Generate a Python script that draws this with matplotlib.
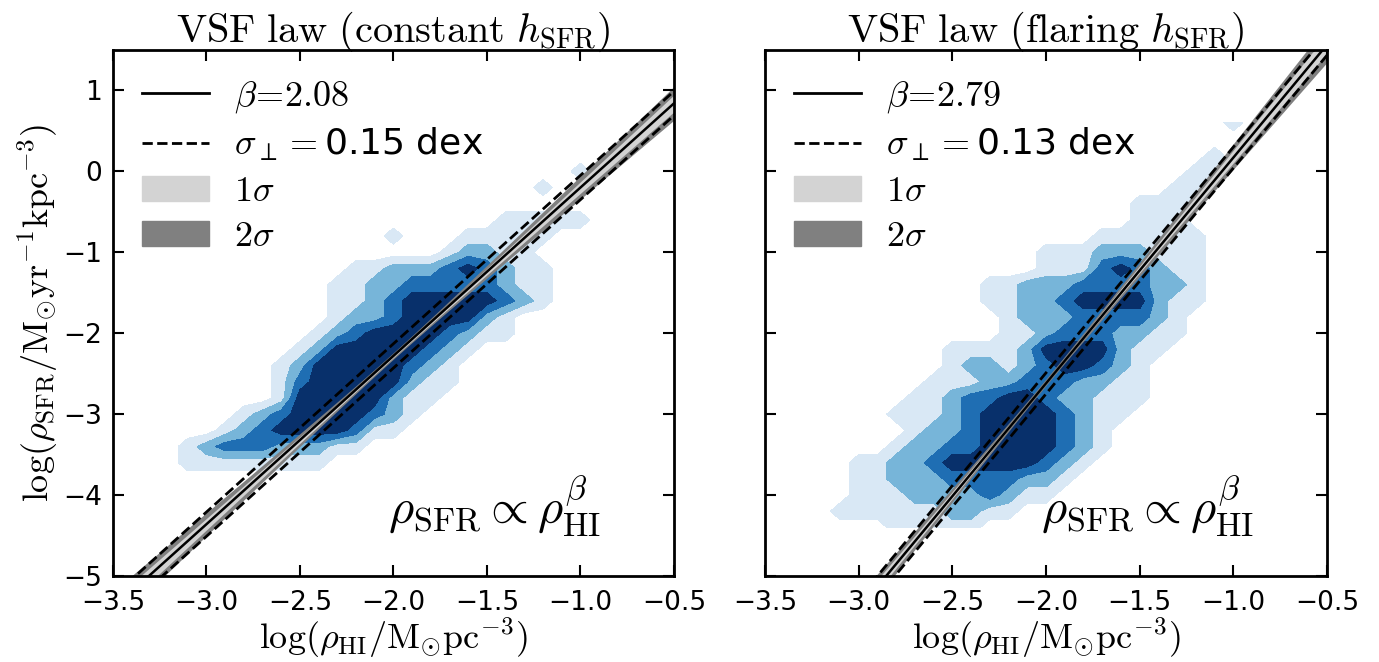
import numpy as np
import matplotlib
matplotlib.use("Agg")
import matplotlib.pyplot as plt
from matplotlib.patches import Patch
from matplotlib.lines import Line2D

plt.rcParams['mathtext.fontset'] = 'cm'
plt.rcParams['font.family'] = ['DejaVu Sans']

# bin centres of the 2D histogram (log rho_HI, log rho_SFR)
x_bins = [-3.4, -3.3, -3.2, -3.1, -3.0, -2.9, -2.8, -2.7, -2.6, -2.5, -2.4, -2.3, -2.2, -2.1,
          -2.0, -1.9, -1.8, -1.7, -1.6, -1.5, -1.4, -1.3, -1.2, -1.1, -1.0, -0.9, -0.8]
y_bins_left = [0.2, 0.0, -0.2, -0.4, -0.6, -0.8, -1.0, -1.2, -1.4, -1.6, -1.8, -2.0,
               -2.2, -2.4, -2.6, -2.8, -3.0, -3.2, -3.4, -3.6, -3.8]
y_bins_right = [0.6, 0.4, 0.2, 0.0, -0.2, -0.4, -0.6, -0.8, -1.0, -1.2, -1.4, -1.6, -1.8,
                -2.0, -2.2, -2.4, -2.6, -2.8, -3.0, -3.2, -3.4, -3.6, -3.8, -4.0, -4.2, -4.4]

# density level (0-4) per bin, one string per row of y_bins
levels_left = [
    "000000000000000000000000000",
    "000000000000000000000000100",
    "000000000000000000000010000",
    "000000000000000000000000000",
    "000000000000000000001111100",
    "000000000000001000111110000",
    "000000000000000001221100000",
    "000000000000112223432110000",
    "000000000001122333332110000",
    "000000000001123444443210000",
    "000000000001223444421000000",
    "000000000012344443211000000",
    "000000000124444432100000000",
    "000000001244444321000000000",
    "000000001344444211000000000",
    "000000001444442110000000000",
    "000000123444432100000000000",
    "000001234444311000000000000",
    "000123332221100000000000000",
    "000111111110000000000000000",
    "000000000000000000000000000",
]
levels_right = [
    "000000000000000000000000100",
    "000000000000000000000000000",
    "000000000000000000000001000",
    "000000000000000000000011000",
    "000000000000000000000110000",
    "000000000000000000011110000",
    "000000000000000000011100000",
    "000000000000000001111110000",
    "000000000000001112221110000",
    "000000000000001113432110000",
    "000000000001122233332210000",
    "000000000001122344442110000",
    "000000000000122233332100000",
    "000000000000112333221100000",
    "000000000111124444211000000",
    "000000000122123443210000000",
    "000000001112233322110000000",
    "000000011233443221110000000",
    "000000111234444321100000000",
    "000000012234444321000000000",
    "000000122334444321000000000",
    "000011223444443210000000000",
    "000011222333322100000000000",
    "000011122223211000000000000",
    "000111111221100000000000000",
    "000000111110000000000000000",
]

# fit results
titles = [r'$\mathrm{VSF\ law\ (constant\ }h_{\mathrm{SFR}}\mathrm{)}$',
          r'$\mathrm{VSF\ law\ (flaring\ }h_{\mathrm{SFR}}\mathrm{)}$']
slopes = [2.08, 2.79]
intercepts = [1.88, 2.96]
scatter = [0.15, 0.13]
pivots = [-2.0, -2.0]
slope_err = [0.068, 0.076]
icpt_err = [0.02, 0.02]

blues = ['#d9e8f5', '#77b5d9', '#1f6eb3', '#08306b']

fig = plt.figure(figsize=(13.79, 6.62), dpi=100)
ax_l = fig.add_axes([0.0819, 0.1299, 0.4068, 0.7946])
ax_r = fig.add_axes([0.5547, 0.1299, 0.4076, 0.7946])

for k, (ax, yb, lev) in enumerate([(ax_l, y_bins_left, levels_left),
                                   (ax_r, y_bins_right, levels_right)]):
    z = np.array([[int(c) for c in row] for row in lev], dtype=float)
    assert z.shape == (len(yb), len(x_bins))
    ax.contourf(x_bins, yb, z, levels=[0.5, 1.5, 2.5, 3.5, 4.5], colors=blues)

    # fitted power law, its uncertainty bands and the perpendicular scatter
    xx = np.linspace(-3.6, -0.4, 200)
    yfit = slopes[k] * xx + intercepts[k]
    err = np.sqrt(icpt_err[k] ** 2 + (slope_err[k] * (xx - pivots[k])) ** 2)
    ax.fill_between(xx, yfit - 2 * err, yfit + 2 * err, color='gray', lw=0)
    ax.fill_between(xx, yfit - err, yfit + err, color='lightgray', lw=0)
    ax.plot(xx, yfit + scatter[k], 'k--', lw=2)
    ax.plot(xx, yfit - scatter[k], 'k--', lw=2)
    ax.plot(xx, yfit, 'k-', lw=1.8)

    ax.set_xlim(-3.5, -0.5)
    ax.set_ylim(-5, 1.5)
    ax.set_xticks([-3.5, -3.0, -2.5, -2.0, -1.5, -1.0, -0.5])
    ax.set_yticks([-5, -4, -3, -2, -1, 0, 1])
    ax.tick_params(direction='in', top=True, right=True, length=8, width=1.5,
                   labelsize=19, pad=8)
    ax.tick_params(axis='x', pad=10)
    for s in ax.spines.values():
        s.set_linewidth(2)
    ax.set_title(titles[k], fontsize=29, pad=6)
    ax.set_xlabel(r'$\log(\rho_{\mathrm{HI}}/\mathrm{M}_{\odot}\mathrm{pc}^{-3})$', fontsize=26, labelpad=0)
    ax.text(0.87, 0.07, r'$\rho_{\mathrm{SFR}}\propto\rho_{\mathrm{HI}}^{\beta}$',
            transform=ax.transAxes, ha='right', va='bottom', fontsize=35)

    handles = [Line2D([], [], color='k', lw=2), Line2D([], [], color='k', lw=2, ls='--'),
               Patch(color='lightgray'), Patch(color='gray')]
    labels = [r'$\beta\!=\!2.08$' if k == 0 else r'$\beta\!=\!2.79$',
              r'$\sigma_\perp=$' + '%.2f dex' % scatter[k],
              r'$1\sigma$', r'$2\sigma$']
    ax.legend(handles, labels, loc='upper left', frameon=False, fontsize=26,
              handlelength=1.85, handletextpad=0.7, labelspacing=0.3,
              borderaxespad=0.4)

ax_l.set_ylabel(r'$\log(\rho_{\mathrm{SFR}}/\mathrm{M}_{\odot}\mathrm{yr}^{-1}\mathrm{kpc}^{-3})$',
                fontsize=26, labelpad=2)
ax_r.set_yticklabels([])

fig.savefig('out.png', dpi=100)
